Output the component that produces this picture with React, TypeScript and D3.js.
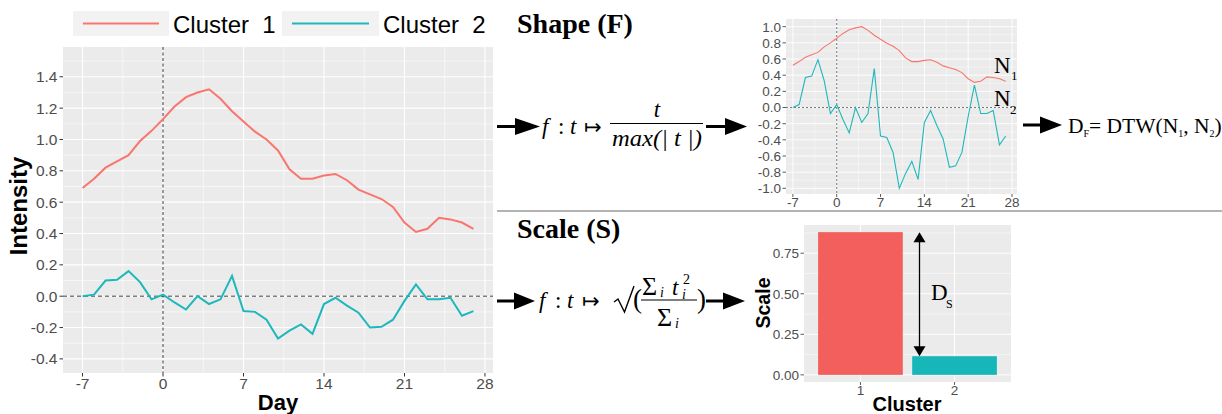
import React from 'react';
import * as d3 from 'd3';

// Mean intensity per day for the two clusters
const days: number[] = d3.range(-7, 28);
const cluster1: number[] = [0.69, 0.75, 0.82, 0.86, 0.9, 0.99, 1.055, 1.13, 1.21, 1.27, 1.3, 1.32, 1.26, 1.18, 1.115, 1.05, 1.0, 0.93, 0.81, 0.75, 0.75, 0.77, 0.78, 0.74, 0.68, 0.65, 0.62, 0.57, 0.47, 0.41, 0.43, 0.5, 0.49, 0.47, 0.43];
const cluster2: number[] = [0.0, 0.01, 0.1, 0.105, 0.16, 0.09, -0.02, 0.01, -0.04, -0.085, 0.0, -0.05, -0.02, 0.13, -0.095, -0.1, -0.15, -0.27, -0.22, -0.18, -0.24, -0.05, -0.01, -0.06, -0.105, -0.2, -0.195, -0.15, -0.03, 0.075, -0.02, -0.02, -0.01, -0.125, -0.095];

// Scale (RMS) per cluster
const clusterNames: string[] = ['1', '2'];
const scaleValues: number[] = [0.88, 0.115];

// Tick labels
const dayTicks: number[] = [-7, 0, 7, 14, 21, 28];
const intensityTicks: number[] = [-0.4, -0.2, 0, 0.2, 0.4, 0.6, 0.8, 1.0, 1.2, 1.4];
const shapeTicks: number[] = [-1, -0.8, -0.6, -0.4, -0.2, 0, 0.2, 0.4, 0.6, 0.8, 1.0];
const scaleTicks: number[] = [0, 0.25, 0.5, 0.75];

const RED = '#F8766D';
const CYAN = '#1DB8BB';
const PANEL = '#EBEBEB';
const TICK_TXT = '#4D4D4D';
const SANS = '"Liberation Sans", Arial, sans-serif';
const SERIF = '"Liberation Serif", "Times New Roman", serif';
const SYM = '"DejaVu Sans", sans-serif';

// Shape normalisation t / max(|t|)
const normalise = (s: number[]) => {
  const m = d3.max(s, (v) => Math.abs(v)) as number;
  return s.map((v) => v / m);
};
const shape1 = normalise(cluster1);
const shape2 = normalise(cluster2);

function Arrow({ x1, x2, y, head = 22, half = 8.5 }: { x1: number; x2: number; y: number; head?: number; half?: number }) {
  return (
    <g>
      <line x1={x1} x2={x2 - head + 2} y1={y} y2={y} stroke="#000" strokeWidth={3} />
      <path d={`M${x2},${y} L${x2 - head},${y - half} L${x2 - head},${y + half} Z`} fill="#000" />
    </g>
  );
}

function Grid({ x, y, xMajor, xMinor, yMajor, yMinor, major = 1.1 }: any) {
  const [x0, x1] = x.range();
  const [y0, y1] = y.range();
  return (
    <g>
      {xMinor.map((v: number) => (
        <line key={'xm' + v} x1={x(v)} x2={x(v)} y1={y0} y2={y1} stroke="#fff" strokeWidth={major / 2} />
      ))}
      {yMinor.map((v: number) => (
        <line key={'ym' + v} x1={x0} x2={x1} y1={y(v)} y2={y(v)} stroke="#fff" strokeWidth={major / 2} />
      ))}
      {xMajor.map((v: number) => (
        <line key={'xM' + v} x1={x(v)} x2={x(v)} y1={y0} y2={y1} stroke="#fff" strokeWidth={major} />
      ))}
      {yMajor.map((v: number) => (
        <line key={'yM' + v} x1={x0} x2={x1} y1={y(v)} y2={y(v)} stroke="#fff" strokeWidth={major} />
      ))}
    </g>
  );
}

export default function App() {
  // main intensity panel
  const x1 = d3.scaleLinear().domain([-8.7, 28.7]).range([63, 493]);
  const y1 = d3.scaleLinear().domain([-0.49, 1.59]).range([373, 47]);
  const line1 = d3.line<number>().x((_, i) => x1(days[i])).y((v) => y1(v));

  // shape panel
  const x2 = d3.scaleLinear().domain([-8.1, 28.8]).range([786, 1017]);
  const y2 = d3.scaleLinear().domain([-1.07, 1.095]).range([194, 19]);
  const line2 = d3.line<number>().x((_, i) => x2(days[i])).y((v) => y2(v));

  // scale panel
  const x3 = d3.scaleBand<string>().domain(clusterNames).range([804, 1011]).paddingInner(0.1).paddingOuter(0.15);
  const x3c = (c: string) => (x3(c) as number) + x3.bandwidth() / 2;
  const y3 = d3.scaleLinear().domain([-0.044, 0.924]).range([382, 225]);

  const xMinorDays = [-3.5, 3.5, 10.5, 17.5, 24.5];
  const intensityMinor = d3.range(-0.3, 1.55, 0.2);
  const shapeMinor = d3.range(-0.9, 1.0, 0.2);
  const scaleMinor = [0.125, 0.375, 0.625, 0.875];

  const fmt1 = d3.format('.1f');
  const fmt2 = d3.format('.2f');
  const sgn = (s: string) => s.replace('−', '-');

  const fb = 300; // fraction bar of the scale formula

  return (
    <svg width={1222} height={414} style={{ position: 'absolute', left: 0, top: 0, background: '#fff' }}>
      {/* ---------- Intensity over time ---------- */}
      <rect x={63} y={47} width={430} height={326} fill={PANEL} />
      <Grid x={x1} y={y1} xMajor={dayTicks} xMinor={xMinorDays} yMajor={intensityTicks} yMinor={intensityMinor} />
      <line x1={63} x2={493} y1={y1(0)} y2={y1(0)} stroke="#7F7F7F" strokeWidth={1.4} strokeDasharray="4,3" />
      <line x1={x1(0)} x2={x1(0)} y1={47} y2={373} stroke="#222" strokeWidth={0.9} strokeDasharray="3,2.5" />
      <path d={line1(cluster1) as string} fill="none" stroke={RED} strokeWidth={2} />
      <path d={line1(cluster2) as string} fill="none" stroke={CYAN} strokeWidth={2} />
      {intensityTicks.map((t) => (
        <g key={'it' + t}>
          <line x1={59.5} x2={63} y1={y1(t)} y2={y1(t)} stroke="#333" strokeWidth={1} />
          <text x={57.5} y={y1(t)} dy="0.36em" textAnchor="end" fontFamily={SANS} fontSize={15.5} fill={TICK_TXT}>
            {sgn(fmt1(t))}
          </text>
        </g>
      ))}
      {dayTicks.map((t) => (
        <g key={'dt' + t}>
          <line x1={x1(t)} x2={x1(t)} y1={373} y2={376.5} stroke="#333" strokeWidth={1} />
          <text x={x1(t)} y={389} textAnchor="middle" fontFamily={SANS} fontSize={15.5} fill={TICK_TXT}>
            {t}
          </text>
        </g>
      ))}
      <text transform="translate(27,206) rotate(-90)" textAnchor="middle" fontFamily={SANS} fontWeight="bold" fontSize={24}>
        Intensity
      </text>
      <text x={278} y={409.5} textAnchor="middle" fontFamily={SANS} fontWeight="bold" fontSize={22}>
        Day
      </text>
      {/* legend */}
      <rect x={73} y={11} width={96} height={25} fill="#F2F2F2" />
      <line x1={83} x2={159} y1={23.5} y2={23.5} stroke={RED} strokeWidth={2} />
      <text x={173} y={32.5} fontFamily={SANS} fontSize={24} style={{ whiteSpace: 'pre' }}>
        Cluster  1
      </text>
      <rect x={282} y={11} width={97} height={25} fill="#F2F2F2" />
      <line x1={292} x2={369} y1={23.5} y2={23.5} stroke={CYAN} strokeWidth={2} />
      <text x={383} y={32.5} fontFamily={SANS} fontSize={24} style={{ whiteSpace: 'pre' }}>
        Cluster  2
      </text>

      {/* ---------- Shape (F) ---------- */}
      <text x={517} y={33} fontFamily={SERIF} fontWeight="bold" fontSize={28}>
        Shape (F)
      </text>
      <Arrow x1={497} x2={540} y={126.5} head={25} />
      <g fontFamily={SERIF} fontStyle="italic" fontSize={23}>
        <text x={542} y={134}>f</text>
        <text x={558} y={134} fontStyle="normal">:</text>
        <text x={570} y={134}>t</text>
        <text x={584} y={134} fontStyle="normal" fontFamily={SYM} fontSize={21}>↦</text>
        <text x={657} y={117} textAnchor="middle">t</text>
        <line x1={610} x2={703} y1={123.5} y2={123.5} stroke="#000" strokeWidth={1.2} />
        <text x={657} y={146} textAnchor="middle" textLength={90} lengthAdjust="spacingAndGlyphs">
          max(| t |)
        </text>
      </g>
      <Arrow x1={706} x2={747} y={126.5} head={22} />

      <rect x={786} y={19} width={231} height={175} fill={PANEL} />
      <Grid x={x2} y={y2} xMajor={dayTicks} xMinor={xMinorDays} yMajor={shapeTicks} yMinor={shapeMinor} major={0.9} />
      <line x1={786} x2={1017} y1={y2(0)} y2={y2(0)} stroke="#555" strokeWidth={0.8} strokeDasharray="2,2" />
      <line x1={x2(0)} x2={x2(0)} y1={19} y2={194} stroke="#555" strokeWidth={0.8} strokeDasharray="2,2" />
      <path d={line2(shape1) as string} fill="none" stroke={RED} strokeWidth={1.1} />
      <path d={line2(shape2) as string} fill="none" stroke={CYAN} strokeWidth={1.1} />
      {shapeTicks.map((t) => (
        <g key={'st' + t}>
          <line x1={782.5} x2={786} y1={y2(t)} y2={y2(t)} stroke="#333" strokeWidth={0.8} />
          <text x={781} y={y2(t)} dy="0.36em" textAnchor="end" fontFamily={SANS} fontSize={13.5} fill={TICK_TXT}>
            {sgn(fmt1(t))}
          </text>
        </g>
      ))}
      {dayTicks.map((t) => (
        <g key={'sd' + t}>
          <line x1={x2(t)} x2={x2(t)} y1={194} y2={197} stroke="#333" strokeWidth={0.8} />
          <text x={x2(t)} y={207} textAnchor="middle" fontFamily={SANS} fontSize={13.5} fill={TICK_TXT}>
            {t}
          </text>
        </g>
      ))}
      <text x={994} y={72.5} fontFamily={SERIF} fontSize={23}>N</text>
      <text x={1011} y={80} fontFamily={SERIF} fontSize={13}>1</text>
      <text x={994} y={106} fontFamily={SERIF} fontSize={23}>N</text>
      <text x={1010} y={113.5} fontFamily={SERIF} fontSize={13}>2</text>

      <Arrow x1={1023} x2={1062} y={125} head={22} />
      <text x={1068} y={133} fontFamily={SERIF} fontSize={21.5}>
        D<tspan fontSize={10} dy={4}>F</tspan>
        <tspan dy={-4} fontSize={21.5}>= DTW(N</tspan>
        <tspan fontSize={10} dy={4}>1</tspan>
        <tspan dy={-4} fontSize={21.5}>, N</tspan>
        <tspan fontSize={10} dy={4}>2</tspan>
        <tspan dy={-4} fontSize={21.5}>)</tspan>
      </text>

      {/* divider */}
      <line x1={497} x2={1222} y1={211} y2={211} stroke="#9A9A9A" strokeWidth={1.5} />

      {/* ---------- Scale (S) ---------- */}
      <text x={517} y={238} fontFamily={SERIF} fontWeight="bold" fontSize={28}>
        Scale (S)
      </text>
      <Arrow x1={497} x2={535} y={fb + 1} head={21} />
      <g fontFamily={SERIF} fontStyle="italic" fontSize={23}>
        <text x={539} y={fb + 8}>f</text>
        <text x={555} y={fb + 8} fontStyle="normal">:</text>
        <text x={567} y={fb + 8}>t</text>
        <text x={582} y={fb + 8} fontStyle="normal" fontFamily={SYM} fontSize={21}>↦</text>
        {/* radical sign */}
        <path
          d={`M614,${fb + 2} L618,${fb - 1} L624.5,${fb + 12} L634,${fb - 14}`}
          fill="none"
          stroke="#000"
          strokeWidth={1.4}
          strokeLinejoin="miter"
        />
        <text x={633} y={fb + 8} fontStyle="normal" fontSize={27}>(</text>
        <text x={642} y={fb - 5} fontStyle="normal" fontSize={26}>Σ</text>
        <text x={660} y={fb - 3} fontSize={14}>i</text>
        <text x={672} y={fb - 5}>t</text>
        <text x={683} y={fb - 16} fontStyle="normal" fontSize={14}>2</text>
        <text x={682} y={fb - 1} fontSize={14}>i</text>
        <line x1={641} x2={697} y1={fb} y2={fb} stroke="#000" strokeWidth={1.1} />
        <text x={657} y={fb + 26} fontStyle="normal" fontSize={26}>Σ</text>
        <text x={675} y={fb + 28} fontSize={14}>i</text>
        <text x={697} y={fb + 8} fontStyle="normal" fontSize={27}>)</text>
      </g>
      <Arrow x1={706} x2={745} y={fb + 1} head={22} />

      <rect x={804} y={225} width={207} height={157} fill={PANEL} />
      {scaleMinor.map((v) => (
        <line key={'sm' + v} x1={804} x2={1011} y1={y3(v)} y2={y3(v)} stroke="#fff" strokeWidth={0.5} />
      ))}
      {scaleTicks.map((v) => (
        <line key={'sM' + v} x1={804} x2={1011} y1={y3(v)} y2={y3(v)} stroke="#fff" strokeWidth={1} />
      ))}
      {clusterNames.map((c) => (
        <line key={'cx' + c} x1={x3c(c)} x2={x3c(c)} y1={225} y2={382} stroke="#fff" strokeWidth={1} />
      ))}
      {clusterNames.map((c, i) => (
        <rect
          key={'bar' + c}
          x={x3(c)}
          width={x3.bandwidth()}
          y={y3(scaleValues[i])}
          height={y3(0) - y3(scaleValues[i])}
          fill={i === 0 ? '#F25F5C' : '#17B6B9'}
        />
      ))}
      {scaleTicks.map((t) => (
        <g key={'sc' + t}>
          <line x1={800.5} x2={804} y1={y3(t)} y2={y3(t)} stroke="#333" strokeWidth={0.8} />
          <text x={799} y={y3(t)} dy="0.36em" textAnchor="end" fontFamily={SANS} fontSize={13.5} fill={TICK_TXT}>
            {fmt2(t)}
          </text>
        </g>
      ))}
      {clusterNames.map((c) => (
        <g key={'cl' + c}>
          <line x1={x3c(c)} x2={x3c(c)} y1={382} y2={385} stroke="#333" strokeWidth={0.8} />
          <text x={x3c(c)} y={395} textAnchor="middle" fontFamily={SANS} fontSize={13.5} fill={TICK_TXT}>
            {c}
          </text>
        </g>
      ))}
      <text transform="translate(770,303) rotate(-90)" textAnchor="middle" fontFamily={SANS} fontWeight="bold" fontSize={19.5}>
        Scale
      </text>
      <text x={907} y={411} textAnchor="middle" fontFamily={SANS} fontWeight="bold" fontSize={20}>
        Cluster
      </text>
      {/* D_S: distance between the two scale values */}
      <g>
        <line x1={919.5} x2={919.5} y1={y3(scaleValues[0]) + 8} y2={y3(scaleValues[1]) - 8} stroke="#000" strokeWidth={1.3} />
        <path
          d={`M919.5,${y3(scaleValues[0])} L913.5,${y3(scaleValues[0]) + 10} L925.5,${y3(scaleValues[0]) + 10} Z`}
          fill="#000"
        />
        <path
          d={`M919.5,${y3(scaleValues[1])} L913.5,${y3(scaleValues[1]) - 10} L925.5,${y3(scaleValues[1]) - 10} Z`}
          fill="#000"
        />
      </g>
      <text x={931} y={300} fontFamily={SERIF} fontSize={23}>D</text>
      <text x={946} y={307.5} fontFamily={SERIF} fontSize={12}>S</text>
    </svg>
  );
}
